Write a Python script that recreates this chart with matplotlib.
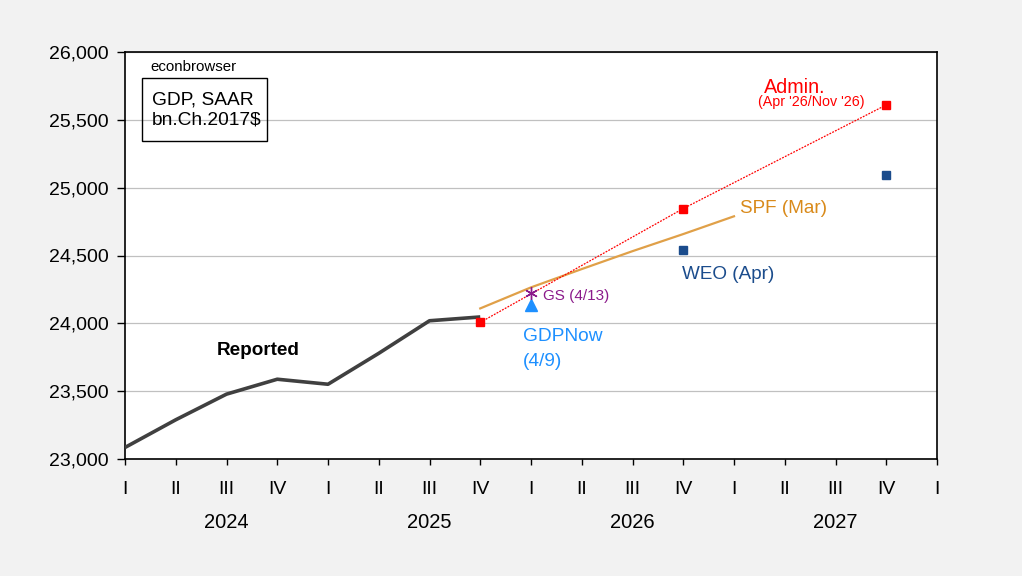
import matplotlib.pyplot as plt
import matplotlib.transforms as mtransforms
from matplotlib.patches import Rectangle

plt.rcParams['font.family'] = ['Liberation Sans', 'DejaVu Sans']

# quarters as fractional years (start of quarter)
reported_x = [2024.0, 2024.25, 2024.5, 2024.75, 2025.0, 2025.25, 2025.5, 2025.75]
reported_y = [23085, 23289, 23478, 23588, 23551, 23779, 24019, 24047]

admin_x = [2025.75, 2026.75, 2027.75]
admin_y = [24007, 24846, 25610]

weo_x = [2026.75, 2027.75]
weo_y = [24544, 25096]

spf_x = [2025.75, 2026.0, 2026.25, 2026.5, 2026.75, 2027.0]
spf_y = [24110, 24265, 24400, 24532, 24658, 24789]

gs_x, gs_y = [2026.0], [24221]
gdpnow_x, gdpnow_y = [2026.0], [24135]

quarter_labels = ['I', 'II', 'III', 'IV'] * 4 + ['I']
years = [2024, 2025, 2026, 2027]

fig = plt.figure(figsize=(10.22, 5.76), dpi=100, facecolor='#f2f2f2')
ax = fig.add_axes([125/1022, 1 - 459/576, 812/1022, 407/576])
ax.set_facecolor('white')

ax.plot(reported_x, reported_y, color='#404040', lw=2.6, solid_capstyle='butt', zorder=3)
ax.plot(spf_x, spf_y, color='#E0A048', lw=1.6, zorder=3)
ax.plot(admin_x, admin_y, color='red', lw=0.9, ls=(0, (1.5, 1)), marker='s',
        ms=5.5, mec='red', mfc='red', zorder=4)
ax.plot(weo_x, weo_y, ls='none', marker='s', ms=5.5, color='#1B4C8C', zorder=4)
ax.plot(gs_x, gs_y, ls='none', marker=(6, 2, 0), ms=9, color='#8B1A8B', mew=1, zorder=5)
ax.plot(gdpnow_x, gdpnow_y, ls='none', marker='^', ms=8, color='#1E90FF', zorder=4)

ax.set_xlim(2024, 2028)
ax.set_ylim(23000, 26000)
ax.set_yticks(range(23000, 26001, 500))
ax.set_yticklabels([f'{v:,}' for v in range(23000, 26001, 500)])
ax.yaxis.grid(True, color='#c0c0c0', lw=0.9)
ax.set_axisbelow(True)

qticks = [2024 + i * 0.25 for i in range(17)]
ax.set_xticks(qticks)
ax.set_xticklabels(quarter_labels)
ax.set_xticks([2024, 2025, 2026, 2027, 2028], minor=True)
ax.tick_params(axis='x', which='major', length=4, width=1, pad=11.5, labelsize=14)
ax.tick_params(axis='x', which='minor', length=7, width=1.2)
ax.tick_params(axis='y', length=6, width=1, pad=6, labelsize=14)
for s in ax.spines.values():
    s.set_linewidth(1.2)

trans = mtransforms.blended_transform_factory(ax.transData, ax.transAxes)
for y in years:
    ax.text(y + 0.5, -0.157, str(y), transform=trans, ha='center', va='center', fontsize=14.5)

# title box
ax.text(25/812, (459 - 67)/407, 'econbrowser', transform=ax.transAxes,
        fontsize=10.8, ha='left', va='center')
ax.add_patch(Rectangle((17/812, (459 - 141)/407), 125/812, 63/407, transform=ax.transAxes,
                       fill=False, lw=1, ec='black', zorder=6))
ax.text(27/812, (459 - 110)/407, 'GDP, SAAR\nbn.Ch.2017$', transform=ax.transAxes,
        fontsize=13.8, ha='left', va='center', linespacing=1.25)

ax.text(2024.45, 23800, 'Reported', fontsize=13.6, fontweight='bold', ha='left', va='center')
ax.text(2027.03, 24845, 'SPF (Mar)', color='#D98A1A', fontsize=13.6, ha='left', va='center')
ax.text(2026.745, 24360, 'WEO (Apr)', color='#1B4C8C', fontsize=13.6, ha='left', va='center')
ax.text(2026.06, 24200, 'GS (4/13)', color='#8B1A8B', fontsize=11, ha='left', va='center')
ax.text(2025.96, 23905, 'GDPNow', color='#1E90FF', fontsize=13.8, ha='left', va='center')
ax.text(2025.96, 23715, '(4/9)', color='#1E90FF', fontsize=13.8, ha='left', va='center')
ax.text(2027.15, 25740, 'Admin.', color='red', fontsize=14.2, ha='left', va='center')
ax.text(2027.12, 25630, "(Apr '26/Nov '26)", color='red', fontsize=10.3, ha='left', va='center')

fig.savefig('out.png', dpi=100, facecolor=fig.get_facecolor())
